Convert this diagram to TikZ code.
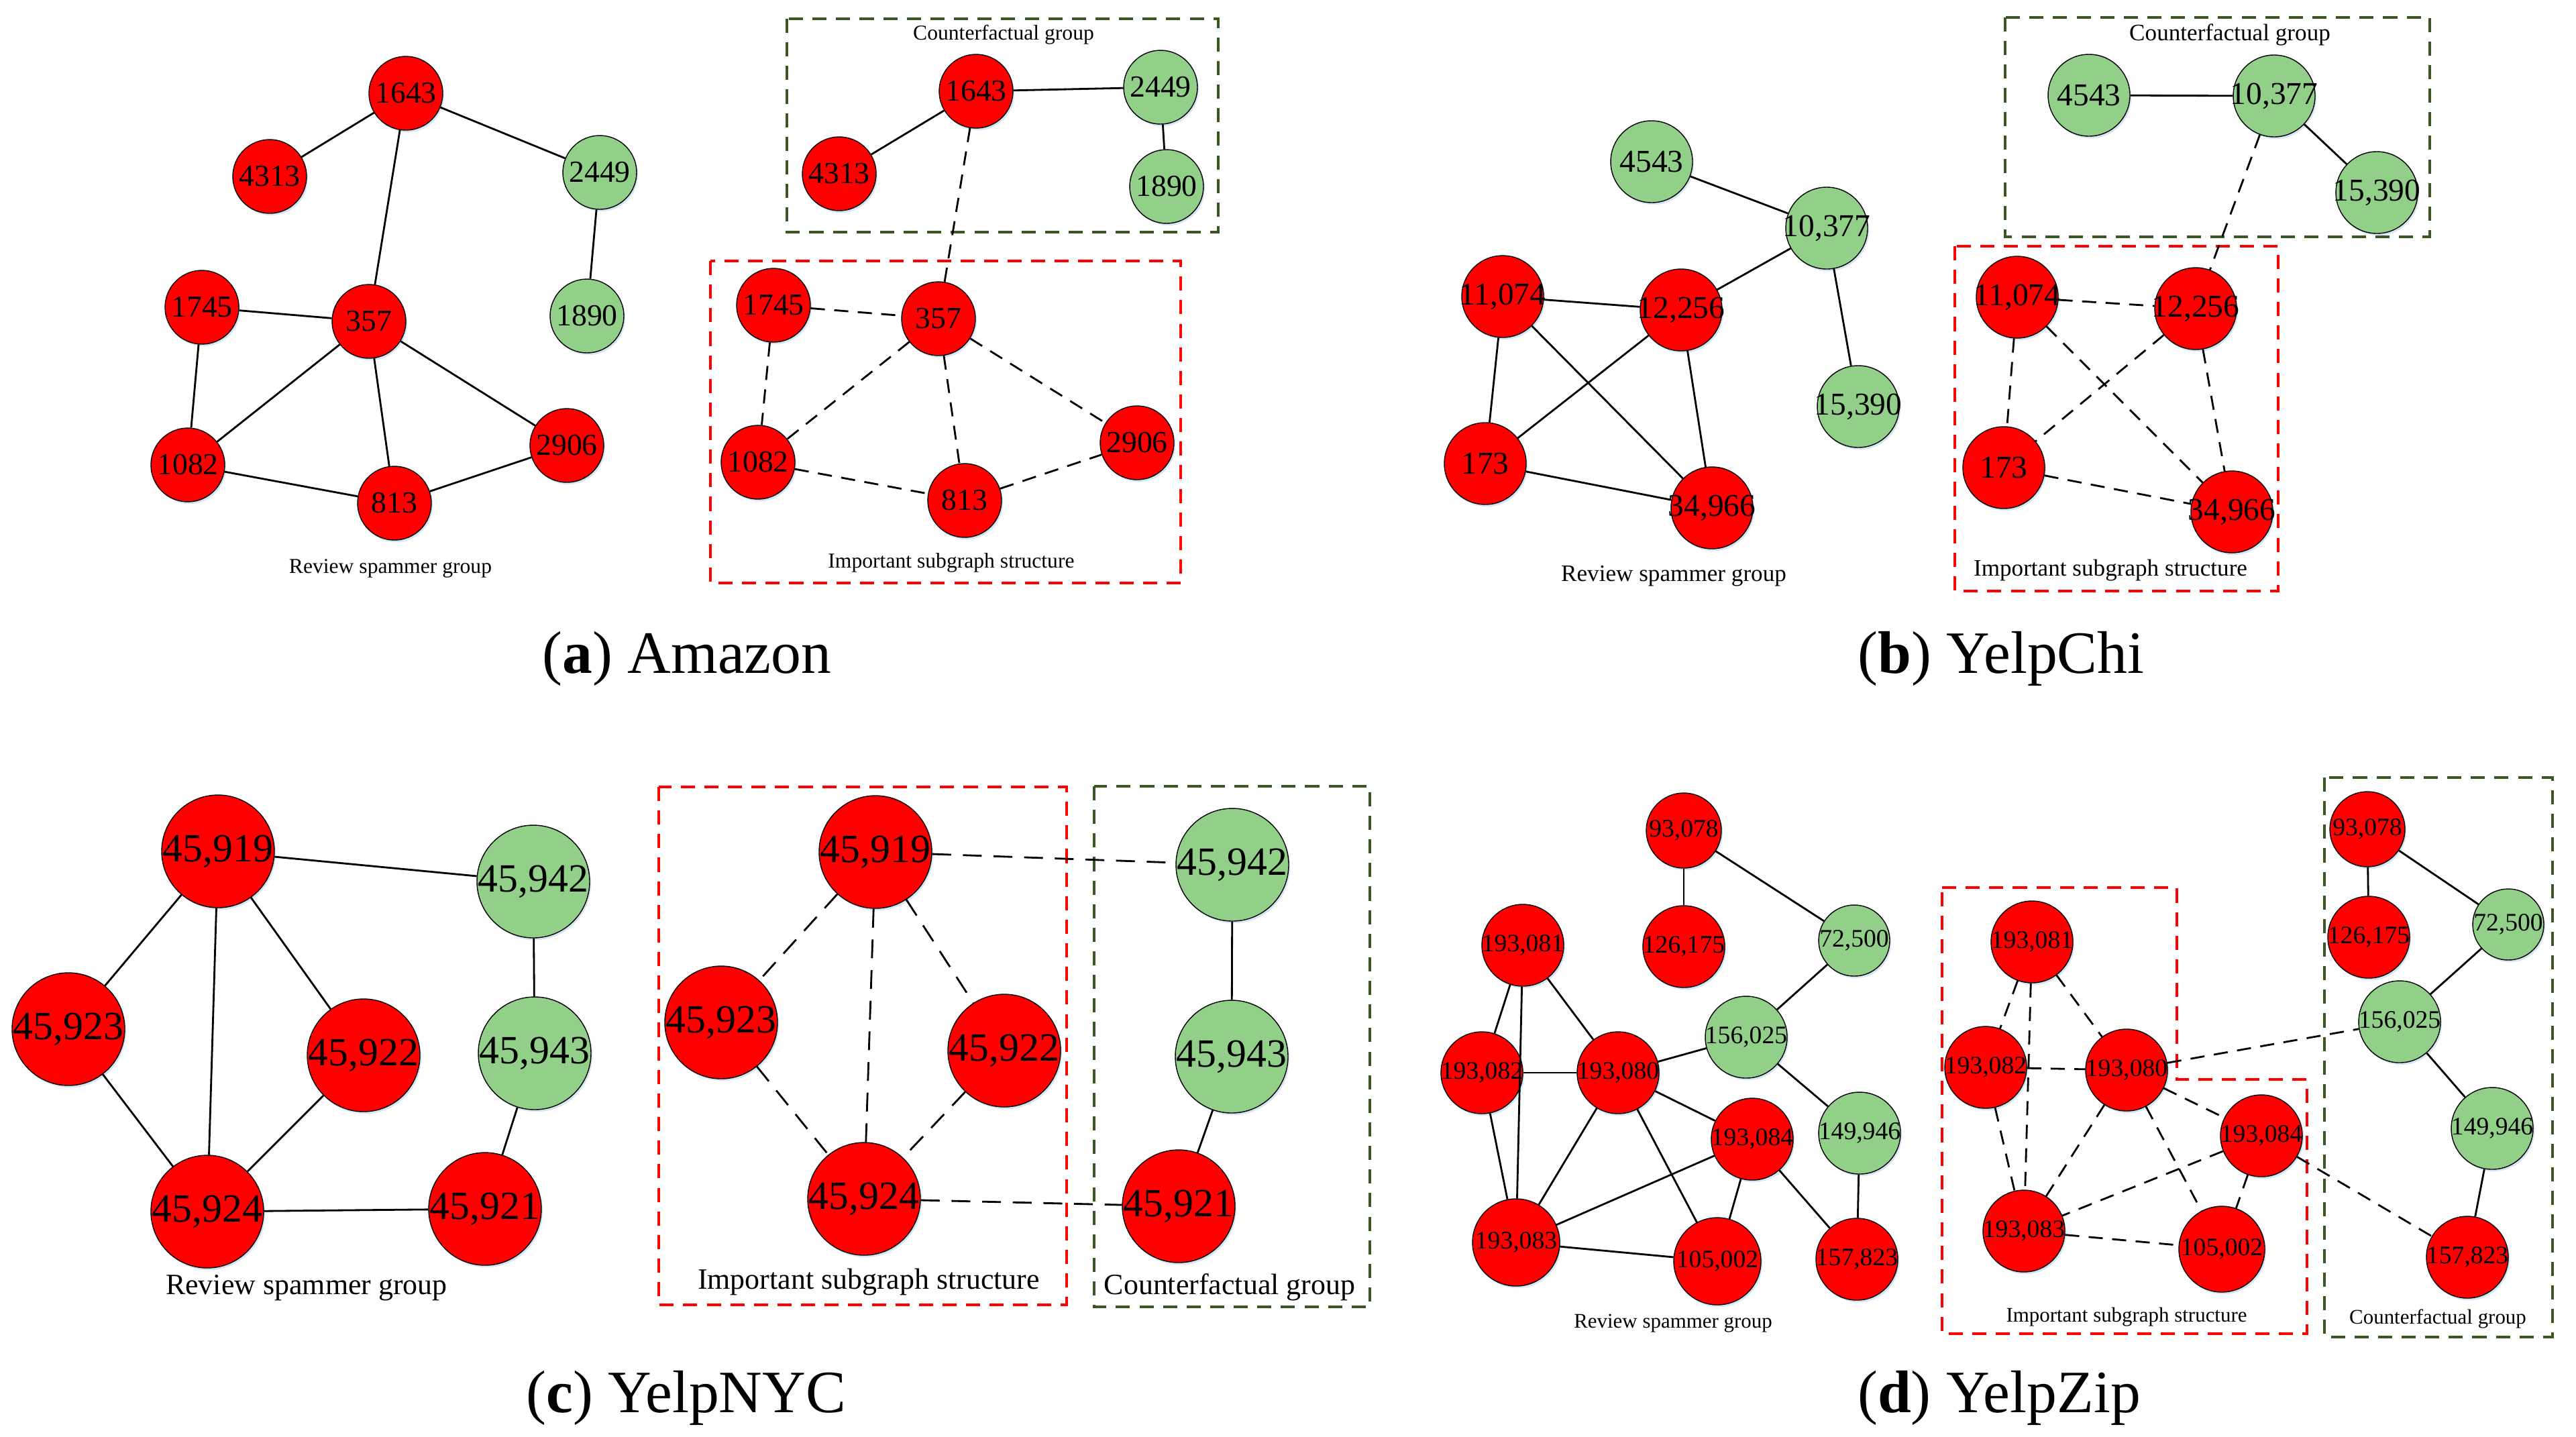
\documentclass[tikz,border=0pt]{standalone}
\usepackage{fontspec}
\setmainfont{Liberation Serif}
\usetikzlibrary{shapes,shadows}
\definecolor{spamred}{RGB}{255,0,0}
\definecolor{benigngreen}{RGB}{146,208,138}
\definecolor{cfgreen}{RGB}{56,87,35}
\definecolor{glow}{RGB}{208,226,245}
\tikzstyle{vertex} = [circle, draw, thin, inner sep=0pt, minimum size=1.1cm, drop shadow={shadow xshift=0.6pt, shadow yshift=-0.9pt, fill=glow, opacity=0.9}, execute at begin node={\hbox to 0pt\bgroup\hss}, execute at end node={\hss\egroup}]
\tikzstyle{spam} = [vertex, fill=spamred]
\tikzstyle{benign} = [vertex, fill=benigngreen]
\tikzstyle{grouplabel} = [inner sep=0pt]
\tikzstyle{subcap} = [anchor=base, font=\fontsize{25.5}{30}\selectfont]
\tikzstyle{link} = [draw, line width=0.8pt]
\tikzstyle{dashlink} = [link, dash pattern=on 6pt off 4pt]
\tikzstyle{subbox} = [line width=0.9pt, spamred, dash pattern=on 6pt off 4pt]
\tikzstyle{cfbox} = [line width=0.9pt, cfgreen, dash pattern=on 6pt off 4pt]

\begin{document}
\begin{tikzpicture}[auto]
\useasboundingbox (0, 0) rectangle (38.40, -21.41);

% (a) Amazon
\begin{scope}[vertex/.append style={minimum size=1.1cm, font=\fontsize{13}{15}\selectfont}, grouplabel/.append style={font=\fontsize{9}{11}\selectfont}]
\node [spam] at (6.05, -1.39) (a1643) {1643};
\node [spam] at (4.02, -2.63) (a4313) {4313};
\node [benign] at (8.94, -2.57) (a2449) {2449};
\node [benign] at (8.75, -4.71) (a1890) {1890};
\node [spam] at (3.01, -4.58) (a1745) {1745};
\node [spam] at (5.50, -4.79) (a357) {357};
\node [spam] at (2.80, -6.93) (a1082) {1082};
\node [spam] at (5.88, -7.50) (a813) {813};
\node [spam] at (8.45, -6.64) (a2906) {2906};
\node [grouplabel] at (5.82, -8.47) (alabel) {Review spammer group};
\path [link] (a1643) to (a4313);
\path [link] (a1643) to (a2449);
\path [link] (a1643) to (a357);
\path [link] (a2449) to (a1890);
\path [link] (a1745) to (a357);
\path [link] (a1745) to (a1082);
\path [link] (a357) to (a1082);
\path [link] (a357) to (a813);
\path [link] (a357) to (a2906);
\path [link] (a1082) to (a813);
\path [link] (a813) to (a2906);

\draw [cfbox] (11.73, -0.28) rectangle (18.16, -3.46);
\draw [subbox] (10.59, -3.89) rectangle (17.60, -8.69);
\node [grouplabel] at (14.96, -0.52) (acf) {Counterfactual group};
\node [grouplabel] at (14.18, -8.39) (aimp) {Important subgraph structure};
\node [spam] at (14.55, -1.36) (ea1643) {1643};
\node [spam] at (12.51, -2.59) (ea4313) {4313};
\node [benign] at (17.30, -1.30) (ea2449) {2449};
\node [benign] at (17.39, -2.78) (ea1890) {1890};
\node [spam] at (11.53, -4.55) (ea1745) {1745};
\node [spam] at (13.99, -4.75) (ea357) {357};
\node [spam] at (11.30, -6.89) (ea1082) {1082};
\node [spam] at (14.38, -7.46) (ea813) {813};
\node [spam] at (16.95, -6.60) (ea2906) {2906};
\path [link] (ea1643) to (ea4313);
\path [link] (ea1643) to (ea2449);
\path [link] (ea2449) to (ea1890);
\path [dashlink] (ea1643) to (ea357);
\path [dashlink] (ea1745) to (ea357);
\path [dashlink] (ea1745) to (ea1082);
\path [dashlink] (ea357) to (ea1082);
\path [dashlink] (ea357) to (ea813);
\path [dashlink] (ea357) to (ea2906);
\path [dashlink] (ea1082) to (ea813);
\path [dashlink] (ea813) to (ea2906);
\end{scope}
\node [subcap] at (10.24, -10.03) (capa) {(\textbf{a}) Amazon};

% (b) YelpChi
\begin{scope}[vertex/.append style={minimum size=1.22cm, font=\fontsize{13.5}{15}\selectfont}, grouplabel/.append style={font=\fontsize{10}{12}\selectfont}]
\node [benign] at (24.62, -2.41) (b4543) {4543};
\node [benign] at (27.23, -3.40) (b10377) {10,377};
\node [spam] at (22.40, -4.42) (b11074) {11,074};
\node [spam] at (25.06, -4.62) (b12256) {12,256};
\node [benign] at (27.70, -6.06) (b15390) {15,390};
\node [spam] at (22.14, -6.91) (b173) {173};
\node [spam] at (25.52, -7.57) (b34966) {34,966};
\node [grouplabel] at (24.95, -8.59) (blabel) {Review spammer group};
\path [link] (b4543) to (b10377);
\path [link] (b10377) to (b12256);
\path [link] (b10377) to (b15390);
\path [link] (b11074) to (b12256);
\path [link] (b11074) to (b173);
\path [link] (b11074) to (b34966);
\path [link] (b12256) to (b173);
\path [link] (b12256) to (b34966);
\path [link] (b173) to (b34966);

\draw [cfbox] (29.89, -0.26) rectangle (36.22, -3.53);
\draw [subbox] (29.14, -3.67) rectangle (33.96, -8.81);
\node [grouplabel] at (33.24, -0.52) (bcf) {Counterfactual group};
\node [grouplabel] at (31.46, -8.50) (bimp) {Important subgraph structure};
\node [benign] at (31.14, -1.42) (eb4543) {4543};
\node [benign] at (33.90, -1.43) (eb10377) {10,377};
\node [benign] at (35.43, -2.87) (eb15390) {15,390};
\node [spam] at (30.07, -4.43) (eb11074) {11,074};
\node [spam] at (32.73, -4.60) (eb12256) {12,256};
\node [spam] at (29.87, -6.97) (eb173) {173};
\node [spam] at (33.27, -7.63) (eb34966) {34,966};
\path [link] (eb4543) to (eb10377);
\path [link] (eb10377) to (eb15390);
\path [dashlink] (eb10377) to (eb12256);
\path [dashlink] (eb11074) to (eb12256);
\path [dashlink] (eb11074) to (eb173);
\path [dashlink] (eb11074) to (eb34966);
\path [dashlink] (eb12256) to (eb173);
\path [dashlink] (eb12256) to (eb34966);
\path [dashlink] (eb173) to (eb34966);
\end{scope}
\node [subcap] at (29.83, -10.03) (capb) {(\textbf{b}) YelpChi};

% (c) YelpNYC
\begin{scope}[vertex/.append style={minimum size=1.68cm, font=\fontsize{17}{19}\selectfont}, grouplabel/.append style={font=\fontsize{12.5}{15}\selectfont}, dashlink/.append style={dash pattern=on 8pt off 5pt}]
\node [spam] at (3.25, -12.69) (c45919) {45,919};
\node [benign] at (7.95, -13.14) (c45942) {45,942};
\node [spam] at (1.02, -15.34) (c45923) {45,923};
\node [spam] at (5.42, -15.73) (c45922) {45,922};
\node [benign] at (7.97, -15.70) (c45943) {45,943};
\node [spam] at (3.09, -18.06) (c45924) {45,924};
\node [spam] at (7.23, -18.02) (c45921) {45,921};
\node [grouplabel] at (4.57, -19.20) (clabel) {Review spammer group};
\path [link] (c45919) to (c45942);
\path [link] (c45919) to (c45923);
\path [link] (c45919) to (c45924);
\path [link] (c45919) to (c45922);
\path [link] (c45923) to (c45924);
\path [link] (c45922) to (c45924);
\path [link] (c45942) to (c45943);
\path [link] (c45943) to (c45921);
\path [link] (c45924) to (c45921);

\draw [subbox] (9.82, -11.73) rectangle (15.90, -19.45);
\draw [cfbox] (16.31, -11.72) rectangle (20.42, -19.48);
\node [grouplabel] at (12.95, -19.11) (cimp) {Important subgraph structure};
\node [grouplabel] at (18.33, -19.19) (ccf) {Counterfactual group};
\node [spam] at (13.05, -12.70) (ec45919) {45,919};
\node [benign] at (18.37, -12.89) (ec45942) {45,942};
\node [spam] at (10.75, -15.24) (ec45923) {45,923};
\node [spam] at (14.97, -15.66) (ec45922) {45,922};
\node [benign] at (18.36, -15.75) (ec45943) {45,943};
\node [spam] at (12.88, -17.87) (ec45924) {45,924};
\node [spam] at (17.57, -17.98) (ec45921) {45,921};
\path [dashlink] (ec45919) to (ec45942);
\path [dashlink] (ec45919) to (ec45923);
\path [dashlink] (ec45919) to (ec45924);
\path [dashlink] (ec45919) to (ec45922);
\path [dashlink] (ec45923) to (ec45924);
\path [dashlink] (ec45922) to (ec45924);
\path [dashlink] (ec45924) to (ec45921);
\path [link] (ec45942) to (ec45943);
\path [link] (ec45943) to (ec45921);
\end{scope}
\node [subcap] at (10.23, -21.05) (capc) {(\textbf{c}) YelpNYC};

% (d) YelpZip
\begin{scope}[vertex/.append style={minimum size=1.22cm, font=\fontsize{10.7}{12}\selectfont}, grouplabel/.append style={font=\fontsize{8.8}{10}\selectfont}]
\node [spam, minimum size=1.12cm] at (25.10, -12.38) (d93078) {93,078};
\node [spam] at (25.10, -14.11) (d126175) {126,175};
\node [benign, minimum size=1.06cm] at (27.64, -14.02) (d72500) {72,500};
\node [spam] at (22.70, -14.09) (d193081) {193,081};
\node [benign] at (26.03, -15.46) (d156025) {156,025};
\node [spam] at (22.09, -15.99) (d193082) {193,082};
\node [spam] at (24.12, -15.99) (d193080) {193,080};
\node [spam] at (26.12, -16.98) (d193084) {193,084};
\node [benign] at (27.72, -16.89) (d149946) {149,946};
\node [spam, minimum size=1.3cm] at (22.60, -18.52) (d193083) {193,083};
\node [spam, minimum size=1.3cm] at (25.60, -18.80) (d105002) {105,002};
\node [spam] at (27.68, -18.77) (d157823) {157,823};
\node [grouplabel] at (24.94, -19.73) (dlabel) {Review spammer group};
\path [link] (d93078) to (d126175);
\path [link] (d93078) to (d72500);
\path [link] (d72500) to (d156025);
\path [link] (d156025) to (d193080);
\path [link] (d156025) to (d149946);
\path [link] (d149946) to (d157823);
\path [link] (d193081) to (d193082);
\path [link] (d193081) to (d193083);
\path [link] (d193081) to (d193080);
\path [link] (d193082) to (d193080);
\path [link] (d193082) to (d193083);
\path [link] (d193080) to (d193083);
\path [link] (d193080) to (d193084);
\path [link] (d193080) to (d105002);
\path [link] (d193084) to (d193083);
\path [link] (d193084) to (d105002);
\path [link] (d193084) to (d157823);
\path [link] (d193083) to (d105002);

\draw [subbox] (28.95, -13.23) -- (32.45, -13.23) -- (32.45, -16.09) -- (34.39, -16.09) -- (34.39, -19.88) -- (28.95, -19.88) -- cycle;
\draw [cfbox] (34.65, -11.59) rectangle (38.05, -19.93);
\node [grouplabel] at (31.70, -19.63) (dimp) {Important subgraph structure};
\node [grouplabel] at (36.34, -19.66) (dcf) {Counterfactual group};
\node [spam] at (30.29, -14.04) (ed193081) {193,081};
\node [spam] at (29.60, -15.91) (ed193082) {193,082};
\node [spam] at (31.70, -15.95) (ed193080) {193,080};
\node [spam] at (33.71, -16.93) (ed193084) {193,084};
\node [spam] at (30.17, -18.35) (ed193083) {193,083};
\node [spam, minimum size=1.28cm] at (33.12, -18.62) (ed105002) {105,002};
\node [spam, minimum size=1.12cm] at (35.29, -12.36) (ed93078) {93,078};
\node [spam] at (35.31, -13.97) (ed126175) {126,175};
\node [benign, minimum size=1.06cm] at (37.39, -13.78) (ed72500) {72,500};
\node [benign] at (35.77, -15.23) (ed156025) {156,025};
\node [benign] at (37.15, -16.82) (ed149946) {149,946};
\node [spam] at (36.78, -18.74) (ed157823) {157,823};
\path [link] (ed93078) to (ed126175);
\path [link] (ed93078) to (ed72500);
\path [link] (ed72500) to (ed156025);
\path [link] (ed156025) to (ed149946);
\path [link] (ed149946) to (ed157823);
\path [dashlink] (ed193081) to (ed193082);
\path [dashlink] (ed193081) to (ed193083);
\path [dashlink] (ed193081) to (ed193080);
\path [dashlink] (ed193082) to (ed193080);
\path [dashlink] (ed193082) to (ed193083);
\path [dashlink] (ed193080) to (ed193083);
\path [dashlink] (ed193080) to (ed193084);
\path [dashlink] (ed193080) to (ed105002);
\path [dashlink] (ed193084) to (ed193083);
\path [dashlink] (ed193084) to (ed105002);
\path [dashlink] (ed193083) to (ed105002);
\path [dashlink] (ed193080) to (ed156025);
\path [dashlink] (ed193084) to (ed157823);
\end{scope}
\node [subcap] at (29.80, -21.05) (capd) {(\textbf{d}) YelpZip};

\end{tikzpicture}
\end{document}
